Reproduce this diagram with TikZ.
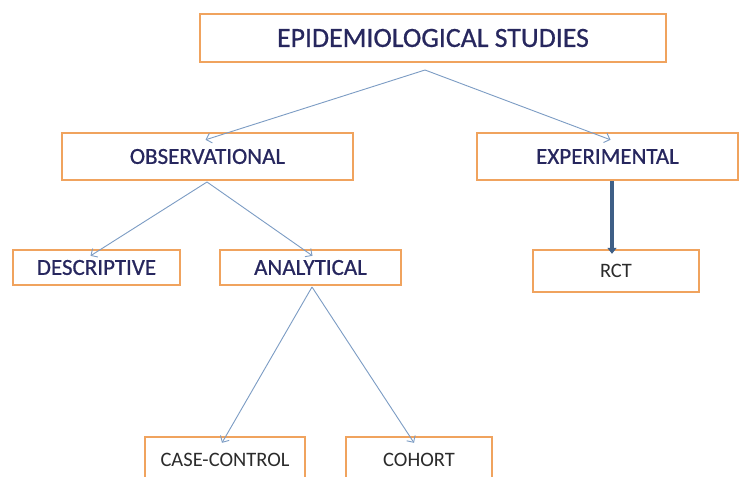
\documentclass[tikz,border=0pt]{standalone}
\usepackage{fontspec}
\setmainfont{Carlito}
\newfontfamily\heavyfont{Carlito}[FakeBold=0.7]
\usetikzlibrary{arrows.meta}
\definecolor{boxorange}{HTML}{F0A35E}
\definecolor{navytext}{HTML}{27275E}
\definecolor{greytext}{HTML}{2B2B2B}
\definecolor{thinblue}{HTML}{7C9CC4}
\definecolor{thickblue}{HTML}{3E5F86}
\tikzset{
  studybox/.style={draw=boxorange, line width=2.4pt, fill=white, inner sep=0pt},
  mainlabel/.style={text=navytext, font=\heavyfont\fontsize{23}{27}\selectfont},
  smalllabel/.style={text=greytext, font=\fontsize{20.5}{24}\selectfont},
  thinarrow/.style={draw=thinblue, line width=0.9pt, -{Straight Barb[length=5pt,width=10pt]}},
  thickarrow/.style={draw=thickblue, line width=3.5pt, -{Triangle[length=6pt,width=9pt]}}
}
\begin{document}
\begin{tikzpicture}[x=1pt, y=-1pt]
	\clip (0,0) rectangle (740,477);
	\fill[white] (0,0) rectangle (740,477);
	% boxes
	\node[studybox, minimum width=466pt, minimum height=48pt, mainlabel, font=\heavyfont\fontsize{27.8}{32}\selectfont] (epi) at (433,38) {EPIDEMIOLOGICAL STUDIES};
	\node[studybox, minimum width=291pt, minimum height=47pt, mainlabel] (obs) at (207.5,156.5) {OBSERVATIONAL};
	\node[studybox, minimum width=261pt, minimum height=47pt, mainlabel] (exp) at (607.5,156.5) {EXPERIMENTAL};
	\node[studybox, minimum width=167pt, minimum height=35pt, mainlabel] (desc) at (96.5,267.5) {DESCRIPTIVE};
	\node[studybox, minimum width=181pt, minimum height=35pt, mainlabel] (anal) at (310.5,267.5) {ANALYTICAL};
	\node[studybox, minimum width=166pt, minimum height=42pt, smalllabel] (rct) at (616,271) {RCT};
	\node[studybox, minimum width=160pt, minimum height=52pt] (cc) at (225,463) {};
	\node[studybox, minimum width=146pt, minimum height=52pt] (coh) at (419,463) {};
	\node[smalllabel] (cclabel) at (225,460) {CASE-CONTROL};
	\node[smalllabel] (cohlabel) at (419,460) {COHORT};
	% split points
	\path
	(425,70) coordinate (episplit)
	(207,182) coordinate (obssplit)
	(312,287) coordinate (analsplit)
	;
	\draw[thinarrow] (episplit) -- ([xshift=-2pt,yshift=-8pt]obs.north);
	\draw[thinarrow] (episplit) -- ([xshift=3pt,yshift=-8pt]exp.north);
	\draw[thinarrow] (obssplit) -- ([xshift=-6pt,yshift=-7pt]desc.north);
	\draw[thinarrow] (obssplit) -- ([xshift=2pt,yshift=-7pt]anal.north);
	\draw[thinarrow] (analsplit) -- ([xshift=-3pt,yshift=-7pt]cc.north);
	\draw[thinarrow] (analsplit) -- ([xshift=-5pt,yshift=-7pt]coh.north);
	\draw[thickarrow] ([xshift=4.5pt]exp.south) -- ([xshift=-4pt,yshift=-5pt]rct.north);
\end{tikzpicture}
\end{document}
